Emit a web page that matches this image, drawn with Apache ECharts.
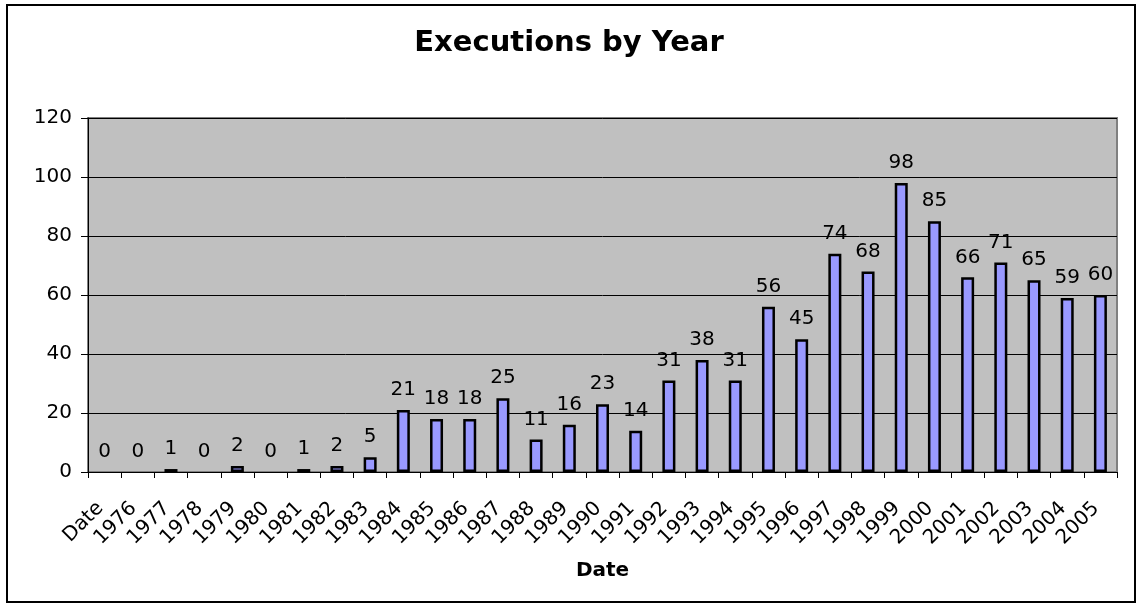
<!DOCTYPE html>
<html>
<head>
<meta charset="utf-8">
<script src="https://cdn.jsdelivr.net/npm/echarts@6/dist/echarts.min.js"></script>
<style>
html,body{margin:0;padding:0;background:#fff;}
#c{width:1138px;height:605px;}
</style>
</head>
<body>
<div id="c"></div>
<script>
const categories = ["Date","1976","1977","1978","1979","1980","1981","1982","1983","1984","1985","1986","1987","1988","1989","1990","1991","1992","1993","1994","1995","1996","1997","1998","1999","2000","2001","2002","2003","2004","2005"];
const executions = [0,0,1,0,2,0,1,2,5,21,18,18,25,11,16,23,14,31,38,31,56,45,74,68,98,85,66,71,65,59,60];
const titleText = "Executions by Year";
const xAxisName = "Date";

const FONT = "DejaVu Sans";
const chart = echarts.init(document.getElementById('c'), null, {renderer:'canvas'});
chart.setOption({
  animation:false,
  backgroundColor:'#ffffff',
  title:{
    text:titleText, left:'center', top:24,
    textStyle:{fontFamily:FONT, fontSize:29, fontWeight:'bold', color:'#000'}
  },
  graphic:[{
    type:'rect', shape:{x:7,y:5,width:1128,height:597},
    style:{fill:null, stroke:'#000', lineWidth:2}, silent:true, z:-10
  }],
  grid:{
    left:88, top:118, right:21, bottom:133,
    show:true, backgroundColor:'#C0C0C0', borderColor:'#808080', borderWidth:2
  },
  xAxis:{
    type:'category', data:categories, boundaryGap:true,
    name:xAxisName, nameLocation:'middle', nameGap:89,
    nameTextStyle:{fontFamily:FONT, fontSize:20, fontWeight:'bold', color:'#000'},
    axisLine:{show:true, lineStyle:{color:'#000', width:1}},
    axisTick:{show:true, alignWithLabel:false, length:6, lineStyle:{color:'#000'}},
    axisLabel:{interval:0, rotate:45, fontFamily:FONT, fontSize:20, color:'#000', margin:29, padding:[0,6,0,0]},
    splitLine:{show:false}
  },
  yAxis:{
    type:'value', min:0, max:120, interval:20,
    axisLine:{show:true, lineStyle:{color:'#000', width:1}},
    axisTick:{show:true, length:7, lineStyle:{color:'#000'}},
    axisLabel:{fontFamily:FONT, fontSize:20, color:'#000', margin:16},
    splitLine:{show:true, lineStyle:{color:'#000', width:1}}
  },
  series:[{
    type:'bar', barWidth:13,
    data:executions.map(v => v === 0 ? {value:v, itemStyle:{borderWidth:0}} : v),
    itemStyle:{color:'#9999FF', borderColor:'#000', borderWidth:2.5},
    label:{show:true, position:'top', distance:10, fontFamily:FONT, fontSize:20, color:'#000'}
  }]
});
</script>
</body>
</html>
